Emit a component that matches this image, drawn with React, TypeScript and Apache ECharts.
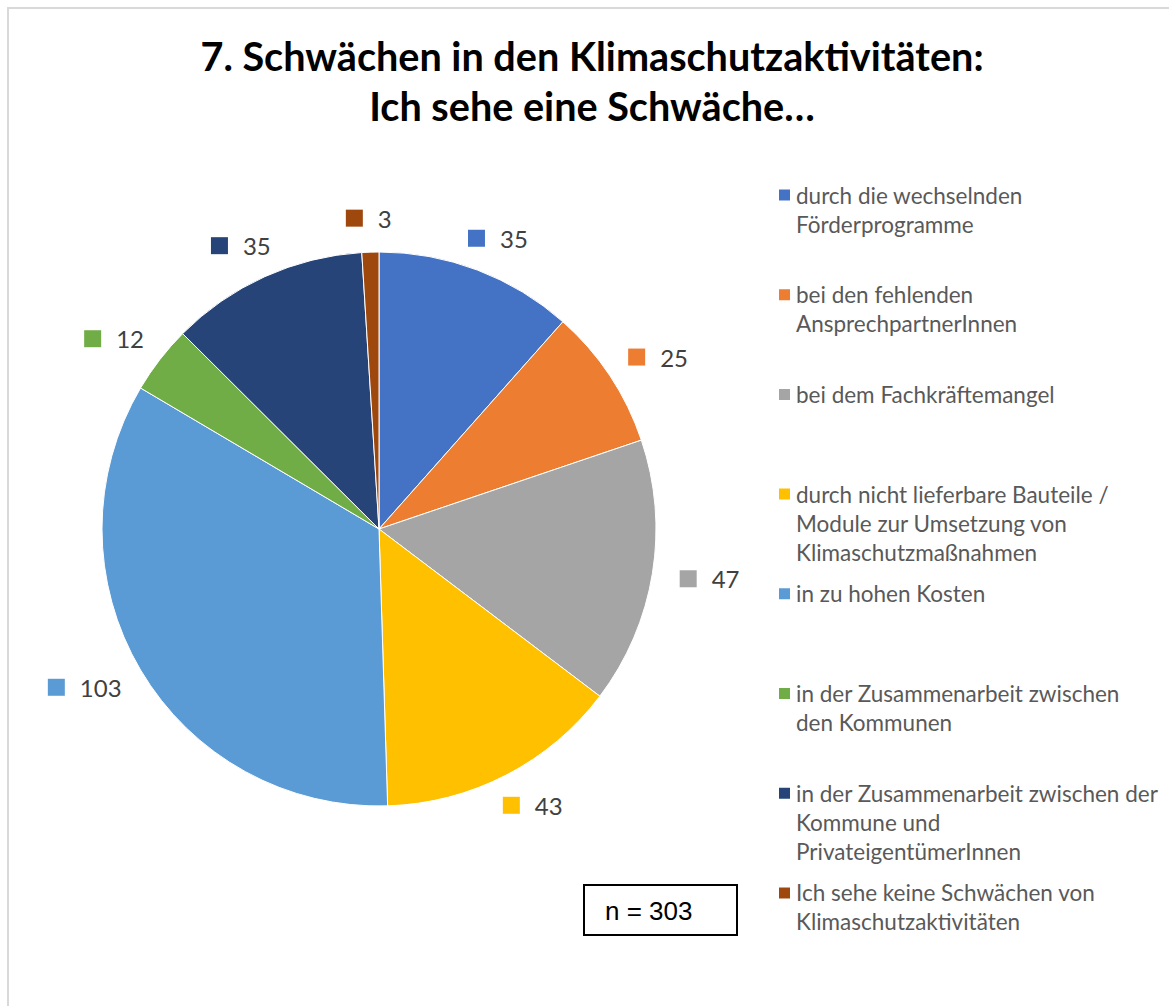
import React, { useEffect, useRef } from "react";
import * as echarts from "echarts";

const categories: string[] = [
  "durch die wechselnden Förderprogramme",
  "bei den fehlenden AnsprechpartnerInnen",
  "bei dem Fachkräftemangel",
  "durch nicht lieferbare Bauteile / Module zur Umsetzung von Klimaschutzmaßnahmen",
  "in zu hohen Kosten",
  "in der Zusammenarbeit zwischen den Kommunen",
  "in der Zusammenarbeit zwischen der Kommune und PrivateigentümerInnen",
  "Ich sehe keine Schwächen von Klimaschutzaktivitäten",
];

const legendLines: string[][] = [
  ["durch die wechselnden", "Förderprogramme"],
  ["bei den fehlenden", "AnsprechpartnerInnen"],
  ["bei dem Fachkräftemangel"],
  ["durch nicht lieferbare Bauteile /", "Module zur Umsetzung von", "Klimaschutzmaßnahmen"],
  ["in zu hohen Kosten"],
  ["in der Zusammenarbeit zwischen", "den Kommunen"],
  ["in der Zusammenarbeit zwischen der", "Kommune und", "PrivateigentümerInnen"],
  ["Ich sehe keine Schwächen von", "Klimaschutzaktivitäten"],
];

const values: number[] = [35, 25, 47, 43, 103, 12, 35, 3];

const colors: string[] = [
  "#4472C4",
  "#ED7D31",
  "#A5A5A5",
  "#FFC000",
  "#5B9BD5",
  "#70AD47",
  "#264478",
  "#9E480E",
];

const titleText = "7. Schwächen in den Klimaschutzaktivitäten:\nIch sehe eine Schwäche…";
const sampleText = "n = 303";

export default function App() {
  const ref = useRef<HTMLDivElement>(null);

  useEffect(() => {
    if (!ref.current) return;
    const chart = echarts.init(ref.current, null, { renderer: "svg" });

    const lh = 29;
    const legends = categories.map((name, i) => {
      const n = legendLines[i].length;
      const iconCenter = 195 + i * 99.7;
      return {
        data: [name],
        left: 777,
        top: iconCenter - ((2 * n - 1) * lh) / 2,
        orient: "vertical",
        padding: 0,
        icon: "rect",
        itemWidth: 13,
        itemHeight: 13,
        selectedMode: false,
        formatter: () => "\n".repeat(n - 1) + legendLines[i].join("\n"),
        textStyle: {
          fontFamily: "Lato",
          fontSize: 22.5,
          color: "#595959",
          lineHeight: lh,
        },
      };
    });

    const rich: any = {
      v: {
        fontFamily: "Lato",
        fontSize: 24,
        color: "#404040",
        padding: [0, 0, 0, 15],
      },
    };
    colors.forEach((c, i) => {
      rich["s" + i] = { width: 17, height: 17, backgroundColor: c };
    });

    chart.setOption({
      animation: false,
      color: colors,
      title: {
        text: titleText,
        left: 587,
        top: 25,
        textAlign: "center",
        textStyle: {
          fontFamily: "Lato",
          fontWeight: "bold",
          fontSize: 39.6,
          lineHeight: 50,
          color: "#000000",
        },
      },
      legend: legends,
      series: [
        {
          type: "pie",
          center: [379, 529],
          radius: 277,
          startAngle: 90,
          clockwise: true,
          avoidLabelOverlap: false,
          minShowLabelAngle: 0,
          itemStyle: { borderColor: "#ffffff", borderWidth: 1 },
          label: {
            show: true,
            position: "outside",
            distanceToLabelLine: 0,
            formatter: (p: any) => `{s${p.dataIndex}|}{v|${p.value}}`,
            rich,
          },
          labelLine: {
            show: true,
            length: 10,
            length2: 0,
            lineStyle: { opacity: 0, width: 0 },
          },
          labelLayout: (params: any) => {
            const pts = params.labelLinePoints;
            if (!pts || pts.length < 2) return {};
            const [x1, y1] = pts[0];
            const [x2, y2] = pts[1];
            const len = Math.hypot(x2 - x1, y2 - y1) || 1;
            const dx = (x2 - x1) / len;
            const dy = (y2 - y1) / len;
            const g = 28;
            const w = params.labelRect.width;
            const h = params.labelRect.height;
            return {
              x: x1 + dx * g + (dx * w) / 2,
              y: y1 + dy * g + (dy * h) / 4,
              align: "center",
              verticalAlign: "middle",
            };
          },
          emphasis: { disabled: true },
          data: categories.map((name, i) => ({ name, value: values[i] })),
        },
      ],
      graphic: [
        {
          type: "rect",
          shape: { x: 8, y: 8, width: 1300, height: 1200 },
          style: { fill: "none", stroke: "#d9d9d9", lineWidth: 2 },
          silent: true,
          z: -10,
        },
        {
          type: "group",
          children: [
            {
              type: "rect",
              shape: { x: 584, y: 885, width: 153, height: 50 },
              style: { fill: "#ffffff", stroke: "#000000", lineWidth: 2 },
            },
            {
              type: "text",
              x: 605,
              y: 911,
              style: {
                text: sampleText,
                fontFamily: "Liberation Sans",
                fontSize: 26,
                fill: "#000000",
                verticalAlign: "middle",
                align: "left",
              },
            },
          ],
        },
      ],
    });

    return () => chart.dispose();
  }, []);

  return (
    <div
      ref={ref}
      style={{ position: "absolute", left: 0, top: 0, width: 1169, height: 1006, background: "#ffffff" }}
    />
  );
}
